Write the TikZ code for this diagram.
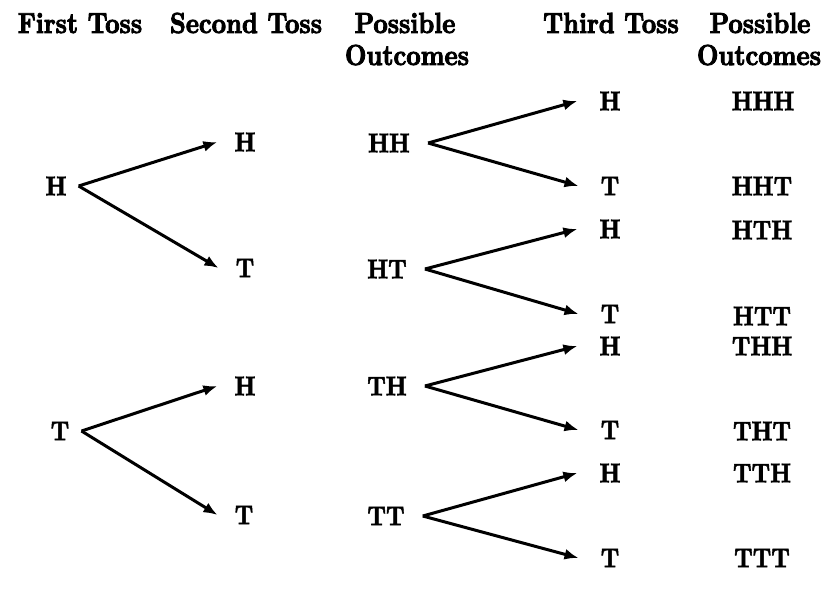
\documentclass[tikz,border=0pt]{standalone}
\usepackage{fontspec}
\newfontfamily\hdrfont[FakeStretch=0.86,FakeBold=3.0]{lmroman10-bold.otf}
\newfontfamily\lblfont[FakeStretch=0.86,FakeBold=2.0]{lmroman10-bold.otf}
\usetikzlibrary{arrows.meta}
\begin{document}
\begin{tikzpicture}[x=1pt,y=-1pt,
  hdr/.style={font=\fontsize{29}{32}\hdrfont, inner sep=0pt},
  lbl/.style={font=\fontsize{27}{30}\lblfont, inner sep=0pt},
  br/.style={line width=3pt, -{Latex[length=14pt,width=11pt]}}]
\useasboundingbox (0,0) rectangle (830,595);
% headers
\node[hdr, anchor=base] (h1) at (80,33) {First Toss};
\node[hdr, anchor=base] (h2) at (246,33) {Second Toss};
\node[hdr, anchor=base] (h3) at (405,33) {Possible};
\node[hdr, anchor=base] (h3b) at (407,65) {Outcomes};
\node[hdr, anchor=base] (h4) at (611,33) {Third Toss};
\node[hdr, anchor=base] (h5) at (760,33) {Possible};
\node[hdr, anchor=base] (h5b) at (759,65) {Outcomes};
% first toss
\node[lbl] (a1) at (56,186) {H};
\node[lbl] (a2) at (60,431) {T};
% second toss
\node[lbl] (b1) at (245,142) {H};
\node[lbl] (b2) at (245,268) {T};
\node[lbl] (b3) at (245,386) {H};
\node[lbl] (b4) at (244,515) {T};
% outcomes of two
\node[lbl] (c1) at (389,143) {HH};
\node[lbl] (c2) at (387,269) {HT};
\node[lbl] (c3) at (387,386) {TH};
\node[lbl] (c4) at (386,516) {TT};
% third toss
\node[lbl] (d1) at (610,101) {H};
\node[lbl] (d2) at (610,186) {T};
\node[lbl] (d3) at (610,229) {H};
\node[lbl] (d4) at (610,314) {T};
\node[lbl] (d5) at (610,346) {H};
\node[lbl] (d6) at (610,430) {T};
\node[lbl] (d7) at (610,473) {H};
\node[lbl] (d8) at (610,558) {T};
% outcomes of three
\node[lbl] (e1) at (763,101) {HHH};
\node[lbl] (e2) at (762,186) {HHT};
\node[lbl] (e3) at (762,230) {HTH};
\node[lbl] (e4) at (762,316) {HTT};
\node[lbl] (e5) at (762,346) {THH};
\node[lbl] (e6) at (762,431) {THT};
\node[lbl] (e7) at (762,473) {TTH};
\node[lbl] (e8) at (762,558) {TTT};
% arrows
\foreach \s/\t in {a1/b1,a1/b2,a2/b3,a2/b4}{
  \draw[br] ([xshift=12pt]\s.east) -- ([xshift=-17pt]\t.west);
}
\foreach \s/\t in {c1/d1,c1/d2,c2/d3,c2/d4,c3/d5,c3/d6,c4/d7,c4/d8}{
  \draw[br] ([xshift=18pt]\s.east) -- ([xshift=-22pt]\t.west);
}
\end{tikzpicture}
\end{document}
